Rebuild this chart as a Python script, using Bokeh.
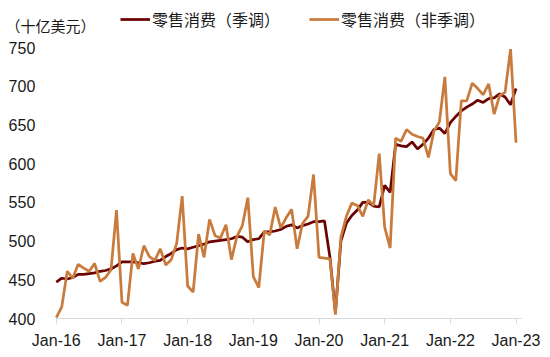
from bokeh.plotting import figure
from bokeh.models import Range1d, FixedTicker, Legend, LegendItem, Label
from bokeh.embed import file_html
from bokeh.resources import INLINE

# Monthly retail sales, Jan-2016 .. Jan-2023 (billion USD)
sa = [
    447, 452, 451, 453, 457, 457, 458, 459, 461, 462, 464, 468,   # 2016
    473, 473, 473, 472, 471, 472, 474, 475, 480, 484, 489, 491,   # 2017
    490, 492, 494, 496, 499, 500, 501, 502, 503, 506, 505, 499,   # 2018
    502, 503, 512, 512, 513, 515, 519, 521, 517, 520, 522, 525,   # 2019
    525, 526, 479, 408, 500, 523, 533, 540, 550, 550, 545, 544,   # 2020
    572, 563, 625, 623, 622, 628, 619, 625, 633, 644, 646, 639,   # 2021
    653, 661, 668, 673, 677, 682, 679, 684, 685, 690, 686, 676,   # 2022
    697,                                                          # 2023
]
nsa = [
    401, 415, 461, 452, 470, 465, 461, 471, 448, 453, 463, 540,   # 2016
    421, 417, 484, 464, 494, 480, 475, 490, 469, 476, 497, 558,   # 2017
    442, 434, 509, 479, 528, 507, 504, 521, 476, 506, 520, 556,   # 2018
    454, 440, 513, 508, 544, 517, 530, 541, 490, 523, 532, 586,   # 2019
    479, 478, 477, 405, 505, 532, 549, 546, 532, 553, 546, 613,   # 2020
    518, 491, 633, 629, 644, 638, 635, 633, 608, 642, 654, 712,   # 2021
    587, 578, 681, 681, 704, 697, 689, 703, 664, 688, 692, 748,   # 2022
    627,                                                          # 2023
]
month_idx = list(range(len(sa)))
tick_labels = ["Jan-16", "Jan-17", "Jan-18", "Jan-19", "Jan-20", "Jan-21", "Jan-22", "Jan-23"]
tick_pos = [12 * i for i in range(len(tick_labels))]
y_ticks = [400, 450, 500, 550, 600, 650, 700, 750]
series_names = ["零售消费（季调）", "零售消费（非季调）"]
unit_text = "（十亿美元）"

SA_COLOR = "#6B0303"
NSA_COLOR = "#C97B3D"

# Frame covers the whole 550x357 canvas.
# Month 0 sits at 55.8 px, month 85 at 521 px; value 400 at 318 px, 750 at 47 px.
px_per_month = (521 - 55.8) / 85
x_start = -55.8 / px_per_month
x_end = 85 + 29 / px_per_month
units_per_px = 350 / 271
y_top = 400 + 318 * units_per_px
y_bottom = 400 - 39 * units_per_px

p = figure(width=550, height=357, output_backend="svg", toolbar_location=None,
           x_range=Range1d(x_start, x_end), y_range=Range1d(y_bottom, y_top),
           min_border_left=0, min_border_right=0, min_border_top=0, min_border_bottom=0)
p.outline_line_color = None
p.xgrid.visible = False
p.ygrid.visible = False
p.background_fill_color = "white"
p.border_fill_color = "white"

r_sa = p.line(month_idx, sa, line_color=SA_COLOR, line_width=2.75)
r_nsa = p.line(month_idx, nsa, line_color=NSA_COLOR, line_width=2.75)

xa = p.xaxis[0]
xa.fixed_location = 400
xa.ticker = FixedTicker(ticks=tick_pos)
xa.bounds = (0, 85)
xa.major_label_overrides = {t: l for t, l in zip(tick_pos, tick_labels)}
xa.axis_line_color = "#d9d9d9"
xa.axis_line_width = 1
xa.major_tick_line_color = "#d9d9d9"
xa.major_tick_in = 0
xa.major_tick_out = 5
xa.minor_tick_line_color = None
xa.major_label_standoff = 8
xa.major_label_text_font = "Liberation Sans"
xa.major_label_text_font_size = "16px"
xa.major_label_text_color = "#1a1a1a"

ya = p.yaxis[0]
ya.fixed_location = 0
ya.ticker = FixedTicker(ticks=y_ticks)
ya.axis_line_color = None
ya.major_tick_line_color = None
ya.minor_tick_line_color = None
ya.major_label_standoff = 15
ya.major_label_text_font = "Liberation Sans"
ya.major_label_text_font_size = "16px"
ya.major_label_text_color = "#1a1a1a"

legend = Legend(
    items=[LegendItem(label=series_names[0], renderers=[r_sa]),
           LegendItem(label=series_names[1], renderers=[r_nsa])],
    orientation="horizontal", location=(120, 326),
    background_fill_alpha=0, border_line_color=None,
    padding=0, margin=0, spacing=29,
    glyph_width=30, glyph_height=16, label_height=16, label_standoff=2,
    label_text_font="Noto Sans CJK SC", label_text_font_size="16px",
    label_text_color="#1a1a1a",
)
p.add_layout(legend)

unit = Label(x=5, y=332, x_units="screen", y_units="screen", text=unit_text,
             text_font="Noto Sans CJK SC", text_font_size="15px",
             text_baseline="middle", text_color="#1a1a1a")
p.add_layout(unit)

open("out.html", "w").write(file_html(p, INLINE))
